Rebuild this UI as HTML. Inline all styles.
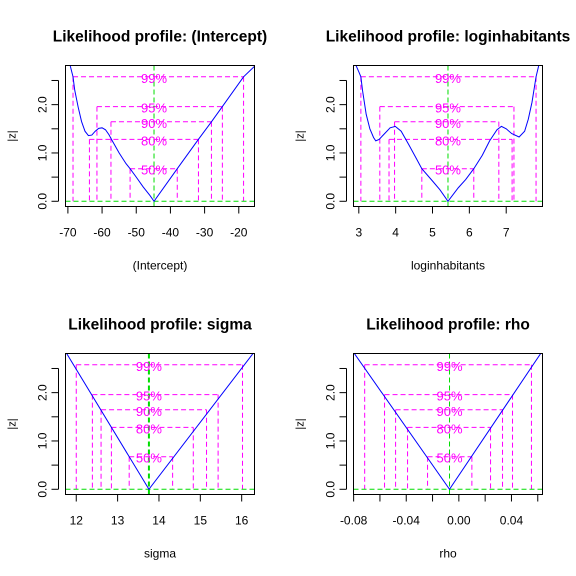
<!DOCTYPE html>
<html><head><meta charset="utf-8"><style>
body{margin:0;background:#fff;}
svg{display:block;font-family:"Liberation Sans",sans-serif;}
</style></head><body>
<svg id="c" width="576" height="576" viewBox="0 0 576 576"></svg>
<script>
const levelNames = ["99%","95%","90%","80%","50%"];
const levelZ = [2.576,1.96,1.645,1.282,0.674];
const yTicks = [0,0.5,1,1.5,2,2.5];
const yTickLabels = ["0.0","","1.0","","2.0",""];

const p1Title = "Likelihood profile: (Intercept)";
const p1XLabel = "(Intercept)";
const p1Center = -44.8;
const p1Left = [-68.5,-61.5,-57.4,-63.7,-51.8];
const p1Right = [-18.6,-24.8,-28.0,-31.8,-38.0];
const p1CurveX = [-69.3,-68.5,-68,-67,-66,-65,-64,-63,-62,-61,-60,-59,-58,-57,-55,-53,-51.8,-50,-48,-46,-44.8,-38,-31.8,-28,-24.8,-18.6,-15.3];
const p1CurveZ = [2.8,2.576,2.3,1.95,1.65,1.45,1.36,1.37,1.45,1.51,1.52,1.48,1.38,1.25,1.0,0.78,0.674,0.5,0.3,0.12,0,0.674,1.282,1.645,1.96,2.576,2.8];
const p1XTicks = [-70,-60,-50,-40,-30,-20];
const p1XTickLabels = ["-70","-60","-50","-40","-30","-20"];

const p2Title = "Likelihood profile: loginhabitants";
const p2XLabel = "loginhabitants";
const p2Center = 5.42;
const p2Left = [3.056,3.57,3.97,3.82,4.71];
const p2Right = [7.81,7.21,6.80,7.16,6.12];
const p2CurveX = [2.93,3.0,3.056,3.1,3.2,3.3,3.4,3.46,3.55,3.7,3.85,3.99,4.15,4.35,4.55,4.71,5.0,5.2,5.42,5.7,5.9,6.12,6.35,6.55,6.75,6.87,7.0,7.15,7.35,7.5,7.6,7.7,7.81,7.88];
const p2CurveZ = [2.8,2.68,2.576,2.3,1.8,1.5,1.32,1.25,1.28,1.4,1.52,1.55,1.45,1.18,0.9,0.674,0.42,0.24,0,0.28,0.45,0.674,0.95,1.25,1.48,1.55,1.5,1.4,1.33,1.45,1.7,2.05,2.576,2.8];
const p2XTicks = [3,4,5,6,7];
const p2XTickLabels = ["3","4","5","6","7"];

const p3Title = "Likelihood profile: sigma";
const p3XLabel = "sigma";
const p3Center = 13.757;
const p3Left = [12.0,12.39,12.6,12.85,13.28];
const p3Right = [16.02,15.43,15.15,14.83,14.33];
const p3CurveX = [11.74,13.757,16.31];
const p3CurveZ = [2.85,0,2.85];
const p3XTicks = [12,13,14,15,16];
const p3XTickLabels = ["12","13","14","15","16"];

const p4Title = "Likelihood profile: rho";
const p4XLabel = "rho";
const p4Center = -0.0071;
const p4Left = [-0.0716,-0.0565,-0.0481,-0.039,-0.0238];
const p4Right = [0.0552,0.0408,0.0332,0.0241,0.0099];
const p4CurveX = [-0.081,-0.0071,0.0637];
const p4CurveZ = [2.87,0,2.87];
const p4XTicks = [-0.08,-0.06,-0.04,-0.02,0,0.02,0.04,0.06];
const p4XTickLabels = ["-0.08","","-0.04","","0.00","","0.04",""];

const NS="http://www.w3.org/2000/svg";
const svg=document.getElementById('c');
function mk(tag,attrs,parent){const e=document.createElementNS(NS,tag);for(const k in attrs)e.setAttribute(k,attrs[k]);(parent||svg).appendChild(e);return e;}

function panel(idx,box,xmin,xmax,title,xlabel,center,left,right,cx,cz,xt,xtl){
  const ymin=-0.108, ymax=2.81;
  const g=mk('g',{});
  
  
  const X=v=>box.x0+(v-xmin)/(xmax-xmin)*(box.x1-box.x0);
  const Y=v=>box.y1-(v-ymin)/(ymax-ymin)*(box.y1-box.y0);
  const cid='clip'+idx;
  const cp=mk('clipPath',{id:cid},g);
  mk('rect',{x:box.x0,y:box.y0,width:box.x1-box.x0,height:box.y1-box.y0},cp);
  const cx0=(box.x0+box.x1)/2;
  const t=mk('text',{x:cx0,y:box.y0-24,'text-anchor':'middle','font-size':'15.5','font-weight':'bold',fill:'#000'},g);
  t.textContent=title;
  
  
  const xl=mk('text',{x:cx0,y:box.y1+63,'text-anchor':'middle','font-size':'12',fill:'#000'},g);
  xl.textContent=xlabel;
  
  
  const yl=mk('text',{x:0,y:0,'text-anchor':'middle','font-size':'11',fill:'#000',transform:`translate(${box.x0-50},${(box.y0+box.y1)/2}) rotate(-90)`},g);
  yl.textContent='|z|';
  
  
  const ya=mk('g',{},g);
  
  
  mk('line',{x1:box.x0-7,x2:box.x0-7,y1:Y(yTicks[0]),y2:Y(yTicks[yTicks.length-1]),stroke:'#000'},ya);
  yTicks.forEach((v,i)=>{
    mk('line',{x1:box.x0-7,x2:box.x0-14,y1:Y(v),y2:Y(v),stroke:'#000'},ya);
    if(yTickLabels[i]){const tt=mk('text',{x:0,y:0,'text-anchor':'middle','font-size':'12',fill:'#000',transform:`translate(${box.x0-19},${Y(v)}) rotate(-90)`},ya);tt.textContent=yTickLabels[i];}
  });
  const xa=mk('g',{},g);
  
  
  mk('line',{x1:X(xt[0]),x2:X(xt[xt.length-1]),y1:box.y1,y2:box.y1,stroke:'#000'},xa);
  xt.forEach((v,i)=>{
    mk('line',{x1:X(v),x2:X(v),y1:box.y1,y2:box.y1+7,stroke:'#000'},xa);
    if(xtl[i]){const tt=mk('text',{x:X(v),y:box.y1+30,'text-anchor':'middle','font-size':'12',fill:'#000'},xa);tt.textContent=xtl[i];}
  });
  const inner=mk('g',{'clip-path':`url(#${cid})`},g);
  levelZ.forEach((z,i)=>{
    const lg=mk('g',{stroke:'#ff00ff','stroke-width':1,'stroke-dasharray':'5,3',fill:'none'},inner);
    
    
    mk('line',{x1:X(left[i]),x2:X(right[i]),y1:Y(z),y2:Y(z)},lg);
    mk('line',{x1:X(left[i]),x2:X(left[i]),y1:Y(z),y2:Y(0)},lg);
    mk('line',{x1:X(right[i]),x2:X(right[i]),y1:Y(z),y2:Y(0)},lg);
  });
  const gv=mk('line',{x1:X(center),x2:X(center),y1:box.y0,y2:box.y1,stroke:'#00dd00','stroke-width':idx==3?2:1,'stroke-dasharray':'5,3'},inner);
  
  
  const gh=mk('line',{x1:box.x0,x2:box.x1,y1:Y(0),y2:Y(0),stroke:'#00dd00','stroke-dasharray':'5,3'},inner);
  
  
  levelZ.forEach((z,i)=>{
    const tt=mk('text',{x:X(center),y:Y(z)+6,'text-anchor':'middle','font-size':'13',fill:'#ff00ff'},inner);
    tt.textContent=levelNames[i];
    
    
  });
  const pts=cx.map((v,i)=>X(v).toFixed(2)+','+Y(cz[i]).toFixed(2)).join(' ');
  const pl=mk('polyline',{points:pts,fill:'none',stroke:'#0000ff','stroke-width':1},inner);
  
  
  const r=mk('rect',{x:box.x0,y:box.y0,width:box.x1-box.x0,height:box.y1-box.y0,fill:'none',stroke:'#000'},g);
  
  
}
panel(1,{x0:65.5,x1:254.5,y0:65.5,y1:206.5},-70.7,-15.4,p1Title,p1XLabel,p1Center,p1Left,p1Right,p1CurveX,p1CurveZ,p1XTicks,p1XTickLabels);
panel(2,{x0:353.5,x1:542.5,y0:65.5,y1:206.5},2.856,7.985,p2Title,p2XLabel,p2Center,p2Left,p2Right,p2CurveX,p2CurveZ,p2XTicks,p2XTickLabels);
panel(3,{x0:65.5,x1:254.5,y0:353.5,y1:494.5},11.74,16.31,p3Title,p3XLabel,p3Center,p3Left,p3Right,p3CurveX,p3CurveZ,p3XTicks,p3XTickLabels);
panel(4,{x0:353.5,x1:542.5,y0:353.5,y1:494.5},-0.0801,0.0636,p4Title,p4XLabel,p4Center,p4Left,p4Right,p4CurveX,p4CurveZ,p4XTicks,p4XTickLabels);
</script>
</body></html>
